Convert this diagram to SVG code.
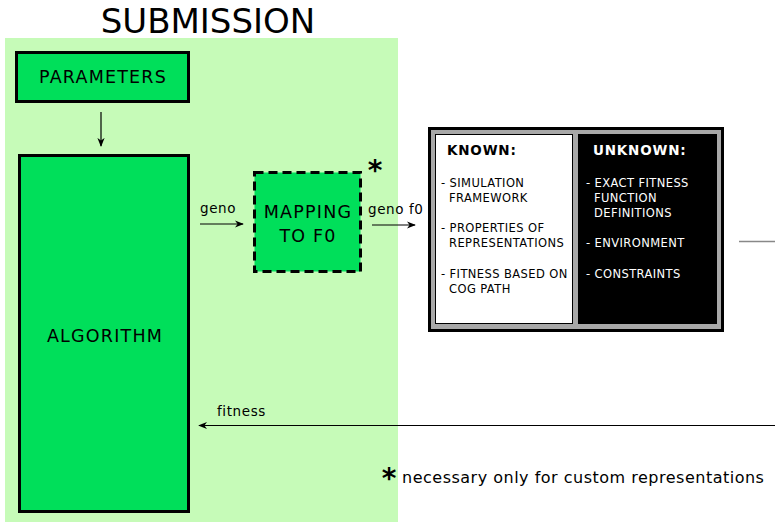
<svg xmlns="http://www.w3.org/2000/svg" width="775" height="522" viewBox="0 0 775 522">
<style>
text{font-family:"DejaVu Sans","Liberation Sans",sans-serif;fill:#000}
.box{fill:#00df5a;stroke:#000;stroke-width:3}
.lbl{font-size:17.5px;text-anchor:middle;letter-spacing:1.2px}
.small{font-size:13.5px;letter-spacing:0.6px}
.item{font-size:11.5px;letter-spacing:0.4px}
.hd{font-size:13.5px;font-weight:bold;letter-spacing:0.8px}
.star{font-size:28px;font-weight:bold;text-anchor:middle}
.conn{stroke:#000;stroke-width:1.2;fill:none}
</style>
<defs>
<marker id="ah" viewBox="0 0 10 10" refX="9" refY="5" markerWidth="9" markerHeight="9" orient="auto" markerUnits="userSpaceOnUse">
<path d="M0,1 L10,5 L0,9 L3,5 Z" fill="#000"/>
</marker>
</defs>
<rect width="775" height="522" fill="#fff"/>
<g id="submission">
<rect x="5" y="38" width="393" height="484" fill="#c6fbb8"/>
<text x="208" y="33" font-size="34" text-anchor="middle">SUBMISSION</text>
</g>
<g id="parameters">
<rect class="box" x="16.5" y="52.5" width="172" height="49"/>
<text class="lbl" x="103" y="83">PARAMETERS</text>
</g>
<g id="algorithm">
<rect class="box" x="19.5" y="155.5" width="169" height="356"/>
<text class="lbl" x="105" y="342">ALGORITHM</text>
</g>
<g id="mapping">
<rect x="254.5" y="172.5" width="106" height="99" fill="#00df5a" stroke="#000" stroke-width="3" stroke-dasharray="9,5"/>
<text class="lbl" x="308" y="218">MAPPING</text>
<text class="lbl" x="308" y="242">TO F0</text>
<text class="star" x="375" y="180">*</text>
</g>
<g id="black-box">
<rect x="429.5" y="128.5" width="293" height="202" fill="#a8a8a8" stroke="#000" stroke-width="3"/>
<rect x="435.5" y="134.5" width="137" height="189" fill="#fff" stroke="#000" stroke-width="1"/>
<rect x="578.5" y="134.5" width="138" height="189" fill="#000" stroke="#000" stroke-width="1"/>
<text class="hd" x="447" y="155">KNOWN:</text>
<text class="item" x="441" y="187">- SIMULATION</text>
<text class="item" x="449" y="202">FRAMEWORK</text>
<text class="item" x="441" y="232">- PROPERTIES OF</text>
<text class="item" x="449" y="247">REPRESENTATIONS</text>
<text class="item" x="441" y="278">- FITNESS BASED ON</text>
<text class="item" x="449" y="293">COG PATH</text>
<text class="hd" x="593" y="155" style="fill:#fff">UNKNOWN:</text>
<text class="item" x="586" y="187" style="fill:#fff">- EXACT FITNESS</text>
<text class="item" x="594" y="202" style="fill:#fff">FUNCTION</text>
<text class="item" x="594" y="217" style="fill:#fff">DEFINITIONS</text>
<text class="item" x="586" y="247" style="fill:#fff">- ENVIRONMENT</text>
<text class="item" x="586" y="278" style="fill:#fff">- CONSTRAINTS</text>
</g>
<g id="footnote">
<text class="star" x="389" y="488">*</text>
<text x="402" y="483" font-size="16" letter-spacing="0.5">necessary only for custom representations</text>
</g>
<g id="connectors">
<line class="conn" x1="101" y1="112" x2="101" y2="146" marker-end="url(#ah)"/>
<line class="conn" x1="200" y1="224" x2="243" y2="224" marker-end="url(#ah)"/>
<text class="small" x="200" y="213">geno</text>
<line class="conn" x1="372" y1="225" x2="415" y2="225" marker-end="url(#ah)"/>
<text class="small" x="368" y="214">geno f0</text>
<line x1="739" y1="241.5" x2="775" y2="241.5" stroke="#888" stroke-width="1.5"/>
<line class="conn" x1="775" y1="425.5" x2="199" y2="425.5" marker-end="url(#ah)"/>
<text class="small" x="217" y="416">fitness</text>
</g>
</svg>
